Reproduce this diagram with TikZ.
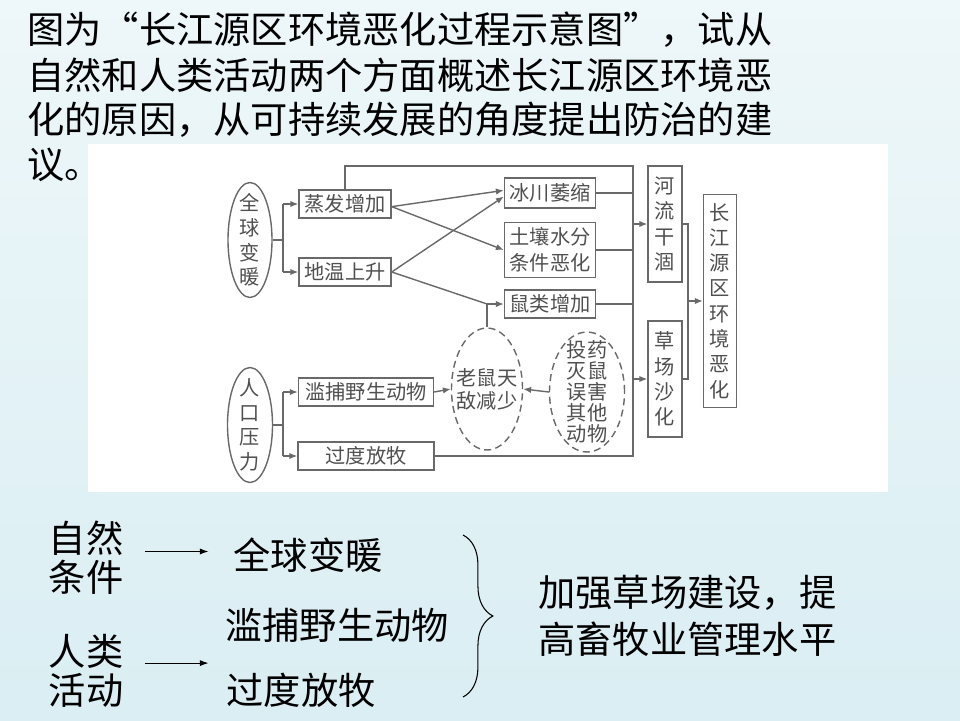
\documentclass[tikz,border=0pt]{standalone}
\usepackage{fontspec}
\setmainfont{Noto Sans CJK SC}
\usepackage{tikz}
\usetikzlibrary{arrows.meta,positioning,shapes.geometric,decorations.pathreplacing,calc}
\definecolor{trait}{RGB}{105,105,105}
\definecolor{texgris}{RGB}{80,80,80}
\definecolor{fondhaut}{RGB}{238,247,249}
\definecolor{fondbas}{RGB}{218,238,243}

\begin{document}
\begin{tikzpicture}[x=0.02cm,y=-0.02cm,
	boite/.style={draw=trait,line width=0.8pt,text=texgris,inner sep=1pt,
		minimum height=0.56cm,font=\fontsize{11.5}{13.5}\selectfont},
	vboite/.style={boite,align=center,minimum width=0.68cm,
		font=\fontsize{11.5}{14.4}\selectfont},
	ovale/.style={draw=trait,line width=0.8pt,ellipse,inner sep=0pt},
	pointille/.style={ovale,dash pattern=on 4pt off 2.5pt},
	etiq/.style={text=texgris,align=center,inner sep=0pt,
		font=\fontsize{11.5}{14}\selectfont},
	lien/.style={draw=trait,line width=0.8pt},
	fleche/.style={lien,-{Latex[length=4.5pt,width=3.6pt]}},
	grand/.style={inner sep=0pt,font=\fontsize{21.2}{25}\selectfont},
	fin/.style={line width=0.6pt,-{Latex[length=5pt,width=3.5pt]}}]
	% fond
	\fill[top color=fondhaut,bottom color=fondbas] (0,0) rectangle (960,720);
	\useasboundingbox (0,0) rectangle (960,720);
	\fill[white] (88,144) rectangle (888,492);
	% question
	\node[grand,anchor=west] (l1) at (27,30) {图为“长江源区环境恶化过程示意图”，试从};
	\node[grand,anchor=west] (l2) at (27,75) {自然和人类活动两个方面概述长江源区环境恶};
	\node[grand,anchor=west] (l3) at (27,120) {化的原因，从可持续发展的角度提出防治的建};
	\node[grand,anchor=west] (l4) at (27,165) {议。};
	% schema
	\node[ovale,minimum width=0.88cm,minimum height=2.3cm,
		label={[etiq]center:{全\\球\\变\\暖}}] (qqbn) at (250,240) {};
	\node[boite,minimum width=1.84cm] (zfzj) at (345,204) {蒸发增加};
	\node[boite,minimum width=1.84cm] (dwss) at (345,272) {地温上升};
	\node[boite,minimum width=1.82cm,minimum height=0.6cm] (bcws) at (550,193) {冰川萎缩};
	\node[boite,minimum width=1.82cm,minimum height=1.1cm,align=center,
		font=\fontsize{11.5}{15}\selectfont] (trsf) at (550,250) {土壤水分\\条件恶化};
	\node[boite,minimum width=1.82cm] (slzj) at (550,304) {鼠类增加};
	\node[vboite,minimum height=2.32cm] (hlgh) at (665,224) {河\\流\\干\\涸};
	\node[vboite,minimum height=2.32cm] (cchs) at (665,379) {草\\场\\沙\\化};
	\node[vboite,minimum width=0.66cm,minimum height=4.26cm] (cjy) at (720,301)
		{长\\江\\源\\区\\环\\境\\恶\\化};
	\node[ovale,minimum width=0.9cm,minimum height=2.3cm,
		label={[etiq]center:{人\\口\\压\\力}}] (rkyl) at (250,425) {};
	\node[boite,minimum width=2.7cm] (lbdw) at (366,392) {滥捕野生动物};
	\node[boite,minimum width=2.72cm] (gdfm) at (366,456) {过度放牧};
	\node[pointille,minimum width=1.42cm,minimum height=2.44cm,
		label={[etiq,font=\fontsize{11.5}{13}\selectfont]center:{老鼠天\\敌减少}}] (lstd) at (487,389) {};
	\node[pointille,minimum width=1.5cm,minimum height=2.4cm,
		label={[etiq,font=\fontsize{11.5}{12}\selectfont]center:{投药\\灭鼠\\误害\\其他\\动物}}] (tymd) at (587,392) {};
	% liaisons
	\coordinate (ga) at (283,240);
	\draw[lien] (qqbn.east) -- (ga);
	\draw[lien] (ga |- zfzj) -- (ga |- dwss);
	\draw[fleche] (ga |- zfzj) -- (zfzj.west);
	\draw[fleche] (ga |- dwss) -- (dwss.west);
	\coordinate (gb) at (283,425);
	\draw[lien] (rkyl.east) -- (gb);
	\draw[lien] (gb |- lbdw) -- (gb |- gdfm);
	\draw[fleche] (gb |- lbdw) -- (lbdw.west);
	\draw[fleche] (gb |- gdfm) -- (gdfm.west);
	\draw[fleche] ([yshift=-1.5pt]zfzj.east) -- ([yshift=1.5pt]bcws.west);
	\draw[fleche] ([yshift=-1.5pt]zfzj.east) -- (trsf.west);
	\draw[fleche] (dwss.east) -- ([yshift=-2pt]bcws.west);
	\coordinate (js) at (lstd.north |- slzj.west);
	\draw[lien] (dwss.east) -- (js);
	\draw[lien] (lstd.north) -- (js);
	\draw[fleche] (js) -- (slzj.west);
	\draw[fleche] (lbdw.east) -- (lstd.west);
	\draw[fleche] (tymd.west) -- (lstd.east);
	\coordinate (ch) at (633,166);
	\coordinate (cb) at (ch |- gdfm.east);
	\draw[lien] (zfzj.north) |- (ch) -- (cb) -- (gdfm.east);
	\draw[lien] (bcws.east) -- (bcws.east -| ch);
	\draw[lien] (trsf.east) -- (trsf.east -| ch);
	\draw[lien] (slzj.east) -- (slzj.east -| ch);
	\draw[fleche] (hlgh.west -| ch) -- (hlgh.west);
	\draw[fleche] (cchs.west -| ch) -- (cchs.west);
	\coordinate (jd) at (688,301);
	\draw[lien] (hlgh.east) -| (jd) |- (cchs.east);
	\draw[fleche] (jd) -- (cjy.west);
	% reponse
	\node[grand,align=center,font=\fontsize{21.2}{22}\selectfont] (zr) at (86,558) {自然\\条件};
	\node[grand] (qqbt) at (308,555) {全球变暖};
	\node[grand] (lbdt) at (337,625) {滥捕野生动物};
	\node[grand] (gdft) at (301,690) {过度放牧};
	\node[grand,align=center,font=\fontsize{21.2}{22}\selectfont] (rl) at (86,671) {人类\\活动};
	\draw[fin,shorten <=12pt,shorten >=14pt] ([yshift=2pt]zr.east |- qqbt) -- ([yshift=2pt]qqbt.west);
	\draw[fin,shorten <=12pt,shorten >=10pt] ([yshift=4.5pt]rl.east) -- ([yshift=4.5pt]rl.east -| gdft.west);
	\coordinate (acc1) at (463,535);
	\coordinate (acc2) at (463,697);
	\draw[line width=0.6pt,decorate,decoration={brace,amplitude=17pt}] (acc1) -- (acc2);
	\node[grand,anchor=west,align=left,font=\fontsize{21.2}{27}\selectfont] (cons) at (538,616)
		{加强草场建设，提\\高畜牧业管理水平};
\end{tikzpicture}
\end{document}
